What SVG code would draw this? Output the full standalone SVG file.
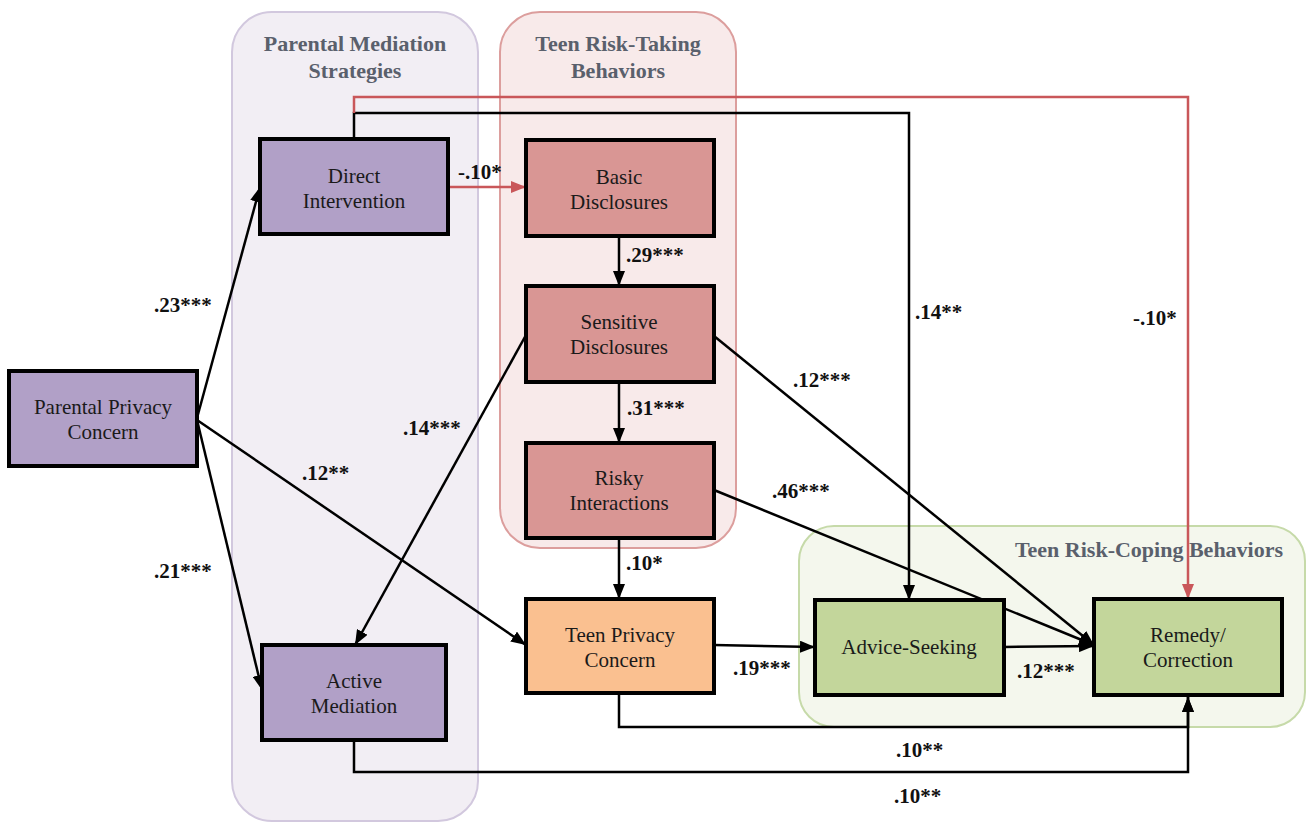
<svg xmlns="http://www.w3.org/2000/svg" width="1307" height="823" viewBox="0 0 1307 823">
<style>
.title{font-family:"Liberation Serif",serif;font-weight:bold;font-size:22px;fill:#5a606c;text-anchor:middle}
.nt{font-family:"Liberation Serif",serif;font-size:21px;fill:#1a1a1a;text-anchor:middle}
.lbl{font-family:"Liberation Serif",serif;font-weight:bold;font-size:21px;fill:#111}
.node{stroke:#000;stroke-width:4}
.purple{fill:#b1a0c7}.red{fill:#d99694}.orange{fill:#fac090}.green{fill:#c3d69b}
.c{fill:none;stroke:#000;stroke-width:2.5;marker-end:url(#ah)}
.cr{fill:none;stroke:#c9575a;stroke-width:2.5;marker-end:url(#ahr)}
</style>
<defs>
<marker id="ah" markerUnits="userSpaceOnUse" markerWidth="16" markerHeight="12" refX="15" refY="6" orient="auto"><path d="M0,0 L15,6 L0,12 z" fill="#000"/></marker>
<marker id="ahr" markerUnits="userSpaceOnUse" markerWidth="16" markerHeight="12" refX="15" refY="6" orient="auto"><path d="M0,0 L15,6 L0,12 z" fill="#c9575a"/></marker>
</defs>
<rect width="1307" height="823" fill="#fff"/>
<g id="group-parental-mediation">
<rect x="232" y="12" width="246" height="809" rx="40" fill="#f2eef4" stroke="#d2c8de" stroke-width="2"/>
<text class="title" x="355" y="51">Parental Mediation</text>
<text class="title" x="355" y="78">Strategies</text>
</g>
<g id="group-risk-taking">
<rect x="500" y="12" width="236" height="536" rx="40" fill="#f8eaea" stroke="#dc9e9d" stroke-width="2"/>
<text class="title" x="618" y="51">Teen Risk-Taking</text>
<text class="title" x="618" y="78">Behaviors</text>
</g>
<g id="group-risk-coping">
<rect x="799" y="526" width="506" height="201" rx="35" fill="#f4f7ed" stroke="#c6daa9" stroke-width="2"/>
<text class="title" x="1149" y="557">Teen Risk-Coping Behaviors</text>
</g>
<g id="connectors">
<path class="c" d="M197,418 L260,187"/>
<path class="c" d="M197,420 L262,690"/>
<path class="c" d="M197,420 L526,645"/>
<path class="cr" d="M448,187 L526,187"/>
<path class="c" d="M619,236 L619,286"/>
<path class="c" d="M619,382 L619,443"/>
<path class="c" d="M619,538 L619,599"/>
<path class="c" d="M526,335 L355,645"/>
<path class="c" d="M714,336 L1094,645"/>
<path class="c" d="M714,490 L1094,645"/>
<path class="c" d="M1004,647 L1094,646"/>
<path class="c" d="M714,645 L815,647"/>
<path class="c" d="M619,693 L619,727 L1188,727 L1188,697"/>
<path class="c" d="M354,740 L354,772 L1188,772 L1188,697"/>
<path class="c" d="M354,139 L354,113 L909,113 L909,600"/>
<path class="cr" d="M354,113 L354,97 L1188,97 L1188,599"/>
</g>
<g id="node-parental-privacy">
<rect class="node purple" x="9" y="371" width="188" height="95"/>
<text class="nt" x="103" y="414">Parental Privacy</text>
<text class="nt" x="103" y="439">Concern</text>
</g>
<g id="node-direct-intervention">
<rect class="node purple" x="260" y="139" width="188" height="95"/>
<text class="nt" x="354" y="183">Direct</text>
<text class="nt" x="354" y="208">Intervention</text>
</g>
<g id="node-active-mediation">
<rect class="node purple" x="262" y="645" width="184" height="95"/>
<text class="nt" x="354" y="688">Active</text>
<text class="nt" x="354" y="713">Mediation</text>
</g>
<g id="node-basic-disclosures">
<rect class="node red" x="526" y="140" width="188" height="96"/>
<text class="nt" x="619" y="184">Basic</text>
<text class="nt" x="619" y="209">Disclosures</text>
</g>
<g id="node-sensitive-disclosures">
<rect class="node red" x="526" y="286" width="188" height="96"/>
<text class="nt" x="619" y="329">Sensitive</text>
<text class="nt" x="619" y="354">Disclosures</text>
</g>
<g id="node-risky-interactions">
<rect class="node red" x="526" y="443" width="188" height="95"/>
<text class="nt" x="619" y="485">Risky</text>
<text class="nt" x="619" y="510">Interactions</text>
</g>
<g id="node-teen-privacy">
<rect class="node orange" x="526" y="599" width="188" height="94"/>
<text class="nt" x="620" y="642">Teen Privacy</text>
<text class="nt" x="620" y="667">Concern</text>
</g>
<g id="node-advice-seeking">
<rect class="node green" x="815" y="600" width="189" height="95"/>
<text class="nt" x="909" y="654">Advice-Seeking</text>
</g>
<g id="node-remedy">
<rect class="node green" x="1094" y="599" width="188" height="96"/>
<text class="nt" x="1188" y="642">Remedy/</text>
<text class="nt" x="1188" y="667">Correction</text>
</g>
<g id="labels">
<text class="lbl" x="154" y="312">.23***</text>
<text class="lbl" x="154" y="578">.21***</text>
<text class="lbl" x="302" y="480">.12**</text>
<text class="lbl" x="403" y="435">.14***</text>
<text class="lbl" x="458" y="179">-.10*</text>
<text class="lbl" x="626" y="262">.29***</text>
<text class="lbl" x="627" y="415">.31***</text>
<text class="lbl" x="793" y="387">.12***</text>
<text class="lbl" x="772" y="498">.46***</text>
<text class="lbl" x="626" y="570">.10*</text>
<text class="lbl" x="733" y="675">.19***</text>
<text class="lbl" x="1017" y="678">.12***</text>
<text class="lbl" x="896" y="757">.10**</text>
<text class="lbl" x="894" y="803">.10**</text>
<text class="lbl" x="915" y="319">.14**</text>
<text class="lbl" x="1133" y="325">-.10*</text>
</g>
</svg>
